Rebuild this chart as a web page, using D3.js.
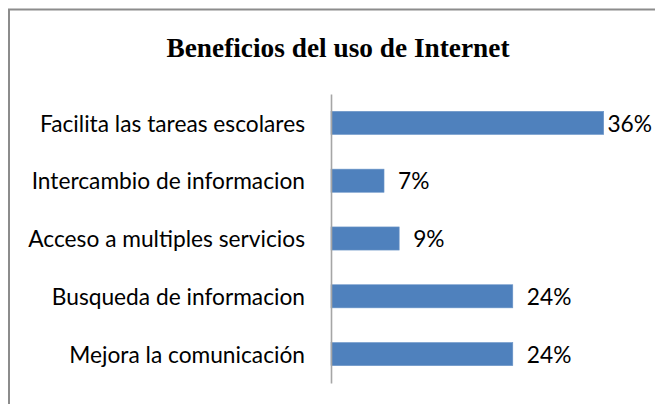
<!DOCTYPE html>
<html>
<head>
<meta charset="utf-8">
<script src="https://cdn.jsdelivr.net/npm/d3@7"></script>
<style>
  html, body { margin: 0; padding: 0; background: #fff; }
  svg { display: block; }
</style>
</head>
<body>
<div id="chart"></div>
<script>
// data, top bar first
var categories = [
  "Facilita las tareas escolares",
  "Intercambio de informacion",
  "Acceso a multiples servicios",
  "Busqueda de informacion",
  "Mejora la comunicación"
];
var values = [36, 7, 9, 24, 24];
var valueLabels = ["36%", "7%", "9%", "24%", "24%"];
var title = "Beneficios del uso de Internet";

var width = 655, height = 404;

var svg = d3.select("#chart").append("svg")
    .attr("width", width)
    .attr("height", height);

// chart frame (runs off the right and bottom edges like the original)
svg.append("rect")
    .attr("x", 9)
    .attr("y", 9.5)
    .attr("width", 700)
    .attr("height", 450)
    .attr("fill", "#fff")
    .attr("stroke", "#8c8c8c")
    .attr("stroke-width", 2);

//----------------------------SCALES----------------------------//
var x = d3.scaleLinear().domain([0, 40]).range([331, 634]);
var y = d3.scaleBand()
    .domain(categories)
    .range([94, 383])
    .paddingInner(0.6)
    .paddingOuter(0.3);

//-----------------------------TITLE----------------------------//
// the original title is a tall, tightly set Times bold
svg.append("text")
    .attr("x", 338)
    .attr("y", 56.5)
    .attr("text-anchor", "middle")
    .attr("textLength", 343)
    .attr("lengthAdjust", "spacingAndGlyphs")
    .style("font-family", "'Liberation Serif', 'Times New Roman', serif")
    .style("font-weight", "bold")
    .style("font-size", "28px")
    .text(title);

//-----------------------------BARS-----------------------------//
var rows = categories.map(function(c, i) {
    return { cat: c, value: values[i], label: valueLabels[i] };
});

svg.selectAll(".bar")
    .data(rows)
    .enter()
    .append("rect")
    .attr("class", "bar")
    .attr("x", x(0))
    .attr("y", function(d) { return y(d.cat); })
    .attr("width", function(d) { return x(d.value) - x(0); })
    .attr("height", y.bandwidth())
    .attr("fill", "#4f81bd")
    .attr("stroke", "#6d96c8")
    .attr("stroke-width", 0.6);

//-----------------------------AXIS-----------------------------//
var yAxis = d3.axisLeft(y).tickSize(0).tickPadding(26);
var gy = svg.append("g")
    .attr("transform", "translate(" + x(0) + ",0)")
    .call(yAxis);
gy.select(".domain")
    .attr("stroke", "#a6a6a6")
    .attr("stroke-width", 1.6);
gy.selectAll(".tick text")
    .attr("fill", "#000")
    .attr("dy", "0.38em")
    .style("font-family", "Lato, 'Open Sans', sans-serif")
    .style("font-size", "20px");

// fit category labels to the original width of the widest one (~277px)
var maxW = d3.max(gy.selectAll(".tick text").nodes(), function(n) { return n.getComputedTextLength(); });
var labelSize = 20 * 277 / maxW;
gy.selectAll(".tick text").style("font-size", labelSize + "px");

//----------------------------VALUES----------------------------//
svg.selectAll(".val")
    .data(rows)
    .enter()
    .append("text")
    .attr("class", "val")
    .attr("x", function(d) { return x(d.value) + 14; })
    .attr("y", function(d) { return y(d.cat) + y.bandwidth() / 2; })
    .attr("dy", "0.38em")
    .style("font-family", "Lato, 'Open Sans', sans-serif")
    .style("font-size", labelSize + "px")
    .attr("fill", "#000")
    .text(function(d) { return d.label; })
    // keep the long bar's label inside the window
    .each(function() {
        var el = d3.select(this);
        var w = this.getComputedTextLength();
        var px = +el.attr("x");
        if (px + w > width - 3) el.attr("x", width - 3 - w);
    });
</script>
</body>
</html>
